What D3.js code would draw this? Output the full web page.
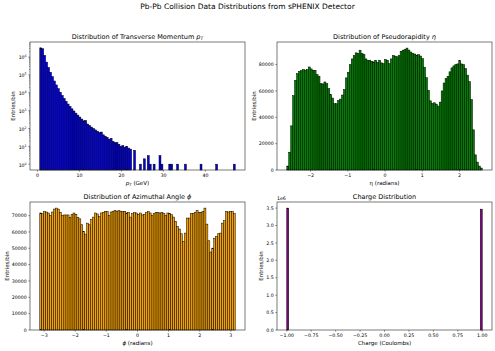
<!DOCTYPE html>
<html>
<head>
<meta charset="utf-8">
<script src="https://cdn.jsdelivr.net/npm/d3@7"></script>
<style>
  body { margin: 0; background: #fff; }
  text { font-family: "DejaVu Sans", sans-serif; fill: #000; }
</style>
</head>
<body>
<div id="chart"></div>
<script>
// ---- data (100 bins per histogram) ----
const nBins = 100;

const ptRange = [0.55, 47.1];
const ptCounts = [
  3300000, 2950000, 1260000, 525000, 263000, 141000, 79400, 45700, 27500, 17000,
  10700, 7080, 4790, 3310, 2340, 1700, 1260, 955, 724, 562,
  437, 339, 269, 282, 178, 148, 120, 100, 83, 71,
  60, 63, 44, 37, 32, 25, 28, 19, 16, 16,
  13, 10, 11, 9, 10, 8, 7, 0, 6, 0,
  0, 1, 0, 2, 0, 3, 1, 0, 1, 0,
  0, 3, 1, 0, 0, 0, 1, 1, 0, 0,
  1, 0, 0, 0, 1, 0, 0, 0, 0, 0,
  0, 0, 1, 0, 0, 0, 0, 0, 0, 0,
  1, 0, 0, 0, 0, 0, 0, 0, 0, 1
];

const etaRange = [-2.64, 2.61];
const etaCounts = [
  3000, 13500, 33500, 56400, 68000, 73100, 74900, 75500, 76200, 75800,
  76200, 78200, 76700, 75700, 75700, 72400, 71200, 65500, 65300, 66800,
  65500, 61700, 57100, 54600, 50300, 50300, 52800, 53800, 56900, 61000,
  69900, 74200, 80000, 84300, 86900, 88900, 88400, 90900, 88400, 87600,
  84300, 83300, 83300, 82500, 82000, 83300, 81700, 83300, 81300, 80700,
  83800, 83300, 80700, 84300, 86900, 86400, 85900, 86900, 90100, 90900,
  91500, 92500, 91000, 89500, 88500, 88000, 87000, 87500, 86500, 84500,
  78000, 70000, 60500, 52500, 50500, 51000, 50000, 48500, 51500, 60000,
  66000, 69500, 71000, 74500, 77500, 79000, 80000, 80500, 83000, 80500,
  80000, 77000, 72000, 67000, 53500, 30500, 11500, 6000, 3000, 1500
];

const phiRange = [-Math.PI, Math.PI];
const phiCounts = [
  71600, 71200, 72600, 72200, 71600, 70000, 72200, 74000, 74600, 74000,
  72000, 70000, 70400, 70400, 70400, 68800, 70600, 71600, 70800, 69000,
  68000, 64400, 60300, 58700, 65400, 64400, 67500, 69100, 71600, 71000,
  69500, 71600, 72000, 72600, 72600, 70000, 72200, 72600, 73200, 72600,
  73000, 72600, 72600, 72600, 71600, 72000, 69100, 71200, 71800, 71600,
  70800, 71600, 70400, 70800, 71800, 72400, 71600, 70000, 71200, 72000,
  72000, 71600, 72000, 71200, 70000, 71600, 71200, 70600, 69100, 66500,
  63400, 61800, 58900, 54200, 59300, 68500, 68500, 71200, 71200, 72000,
  73000, 72000, 72000, 72600, 74600, 64800, 54600, 47700, 50100, 56200,
  57300, 58900, 59300, 65400, 66900, 72600, 72200, 72600, 72600, 71200
];

const chargeRange = [-1, 1];
const chargeValues = [-1, 1];
const chargeCounts = [3500000, 3470000];

// ---- ticks ----
const ptXTicks = [0, 10, 20, 30, 40];
const ptYDecades = [0, 1, 2, 3, 4, 5, 6];
const etaXTicks = [-2, -1, 0, 1, 2];
const etaYTicks = [0, 20000, 40000, 60000, 80000];
const phiXTicks = [-3, -2, -1, 0, 1, 2, 3];
const phiYTicks = [0, 10000, 20000, 30000, 40000, 50000, 60000, 70000];
const chargeXTicks = [-1, -0.75, -0.5, -0.25, 0, 0.25, 0.5, 0.75, 1];
const chargeYTicks = [0, 500000, 1000000, 1500000, 2000000, 2500000, 3000000, 3500000];

const W = 495, H = 351;
const TICK = 1.65, PAD = 1.65;
const FS_TICK = 4.7, FS_LABEL = 5.5, FS_TITLE = 6.5;

const svg = d3.select("#chart").append("svg")
  .attr("width", W).attr("height", H)
  .attr("viewBox", `0 0 ${W} ${H}`);

// mathtext-like text pieces: {t, it, sub, sup}
function rich(t, segs, size) {
  let shift = 0;
  segs.forEach(s => {
    const ts = t.append("tspan").text(s.t);
    const want = s.sub ? size * 0.25 : s.sup ? -size * 0.42 : 0;
    if (want !== shift) { ts.attr("dy", want - shift); shift = want; }
    if (s.sub || s.sup) ts.attr("font-size", size * 0.7);
    if (s.it) ts.attr("font-style", "italic");
  });
}

function binsFrom(counts, range) {
  const w = (range[1] - range[0]) / counts.length;
  return counts.map((v, i) => ({ x0: range[0] + i * w, x1: range[0] + (i + 1) * w, v }));
}

function panel(o) {
  const g = svg.append("g");
  const [x0, x1, y0, y1] = o.box;
  const R = o.range[1] - o.range[0];
  const x = d3.scaleLinear()
    .domain([o.range[0] - 0.05 * R, o.range[1] + 0.05 * R])
    .range([x0, x1]);

  let y;
  const vals = o.bars.map(d => d.v).filter(v => v > 0);
  if (o.log) {
    const lo = Math.log10(d3.min(vals)), hi = Math.log10(d3.max(vals));
    const m = 0.05 * (hi - lo);
    y = d3.scaleLog().domain([Math.pow(10, lo - m), Math.pow(10, hi + m)]).range([y1, y0]);
  } else {
    y = d3.scaleLinear().domain([0, d3.max(vals) * 1.05]).range([y1, y0]);
  }
  const base = y.domain()[0];

  // bars
  g.selectAll("rect.bar")
    .data(o.bars.filter(d => d.v > 0))
    .enter().append("rect")
    .attr("class", "bar")
    .attr("x", d => x(d.x0))
    .attr("width", d => x(d.x1) - x(d.x0))
    .attr("y", d => y(d.v))
    .attr("height", d => y(base) - y(d.v))
    .attr("fill", o.color)
    .attr("stroke", "#000")
    .attr("stroke-width", 0.5);

  // spines
  g.append("rect")
    .attr("x", x0).attr("y", y0)
    .attr("width", x1 - x0).attr("height", y1 - y0)
    .attr("fill", "none").attr("stroke", "#222").attr("stroke-width", 0.6);

  // x ticks
  o.xTicks.forEach(t => {
    const px = x(t);
    g.append("line").attr("x1", px).attr("x2", px).attr("y1", y1).attr("y2", y1 + TICK)
      .attr("stroke", "#222").attr("stroke-width", 0.5);
    g.append("text").attr("x", px).attr("y", y1 + TICK + PAD + FS_TICK * 0.76)
      .attr("text-anchor", "middle").attr("font-size", FS_TICK)
      .text(o.xFmt(t));
  });

  // y ticks
  let tickLeft = x0;
  const labs = [];
  if (o.log) {
    ptYDecades.forEach(k => {
      const py = y(Math.pow(10, k));
      g.append("line").attr("x1", x0 - TICK).attr("x2", x0).attr("y1", py).attr("y2", py)
        .attr("stroke", "#222").attr("stroke-width", 0.5);
      const t = g.append("text").attr("x", x0 - TICK - PAD).attr("y", py + FS_TICK * 0.5)
        .attr("text-anchor", "end").attr("font-size", FS_TICK);
      rich(t, [{ t: "10" }, { t: String(k), sup: true }], FS_TICK);
      labs.push(t);
      // minor ticks
      for (let mth = 2; mth <= 9; mth++) {
        const v = mth * Math.pow(10, k);
        if (v > y.domain()[1]) break;
        const my = y(v);
        g.append("line").attr("x1", x0 - TICK * 0.6).attr("x2", x0).attr("y1", my).attr("y2", my)
          .attr("stroke", "#222").attr("stroke-width", 0.4);
      }
    });
  } else {
    o.yTicks.forEach(t => {
      const py = y(t);
      g.append("line").attr("x1", x0 - TICK).attr("x2", x0).attr("y1", py).attr("y2", py)
        .attr("stroke", "#222").attr("stroke-width", 0.5);
      const tx = g.append("text").attr("x", x0 - TICK - PAD).attr("y", py + FS_TICK * 0.36)
        .attr("text-anchor", "end").attr("font-size", FS_TICK)
        .text(o.yFmt(t));
      labs.push(tx);
    });
  }
  labs.forEach(t => { tickLeft = Math.min(tickLeft, t.node().getBBox().x); });

  // offset text (e.g. 1e6)
  if (o.offset) {
    g.append("text").attr("x", x0).attr("y", y0 - 1.6)
      .attr("font-size", FS_TICK).text(o.offset);
  }

  // title
  const tt = g.append("text").attr("x", (x0 + x1) / 2).attr("y", y0 - 3.2)
    .attr("text-anchor", "middle").attr("font-size", FS_TITLE);
  rich(tt, o.title, FS_TITLE);

  // x label
  const xl = g.append("text").attr("x", (x0 + x1) / 2)
    .attr("y", y1 + TICK + PAD + FS_TICK * 1.2 + 1.9 + FS_LABEL * 0.76)
    .attr("text-anchor", "middle").attr("font-size", FS_LABEL);
  rich(xl, o.xlabel, FS_LABEL);

  // y label
  const yx = tickLeft - 1.9 - FS_LABEL * 0.25;
  g.append("text")
    .attr("transform", `translate(${yx},${(y0 + y1) / 2}) rotate(-90)`)
    .attr("text-anchor", "middle").attr("font-size", FS_LABEL)
    .text("Entries/bin");
}

// suptitle
svg.append("text").attr("x", W / 2).attr("y", 8.8)
  .attr("text-anchor", "middle").attr("font-size", 7.5)
  .text("Pb-Pb Collision Data Distributions from sPHENIX Detector");

const fmtInt = d3.format("d");

panel({
  box: [30, 245, 42, 170],
  range: ptRange,
  bars: binsFrom(ptCounts, ptRange),
  color: "#0000ee",
  log: true,
  xTicks: ptXTicks, xFmt: fmtInt,
  title: [{ t: "Distribution of Transverse Momentum " }, { t: "p", it: true }, { t: "T", it: true, sub: true }],
  xlabel: [{ t: "p", it: true }, { t: "T", it: true, sub: true }, { t: " (GeV)" }]
});

panel({
  box: [277, 492, 42, 170],
  range: etaRange,
  bars: binsFrom(etaCounts, etaRange),
  color: "#008000",
  xTicks: etaXTicks, xFmt: fmtInt,
  yTicks: etaYTicks, yFmt: fmtInt,
  title: [{ t: "Distribution of Pseudorapidity " }, { t: "η", it: true }],
  xlabel: [{ t: "η (radians)" }]
});

panel({
  box: [30, 245, 202, 330],
  range: phiRange,
  bars: binsFrom(phiCounts, phiRange),
  color: "#f5a000",
  xTicks: phiXTicks, xFmt: fmtInt,
  yTicks: phiYTicks, yFmt: fmtInt,
  title: [{ t: "Distribution of Azimuthal Angle " }, { t: "ϕ", it: true }],
  xlabel: [{ t: "ϕ", it: true }, { t: " (radians)" }]
});

const cw = (chargeRange[1] - chargeRange[0]) / nBins;
const chargeBars = chargeValues.map((c, j) => {
  const i = Math.min(nBins - 1, Math.floor((c - chargeRange[0]) / cw));
  return { x0: chargeRange[0] + i * cw, x1: chargeRange[0] + (i + 1) * cw, v: chargeCounts[j] };
});

panel({
  box: [277, 492, 202, 330],
  range: chargeRange,
  bars: chargeBars,
  color: "#800080",
  xTicks: chargeXTicks, xFmt: d3.format(".2f"),
  yTicks: chargeYTicks, yFmt: v => d3.format(".1f")(v / 1e6),
  offset: "1e6",
  title: [{ t: "Charge Distribution" }],
  xlabel: [{ t: "Charge (Coulombs)" }]
});
</script>
</body>
</html>
